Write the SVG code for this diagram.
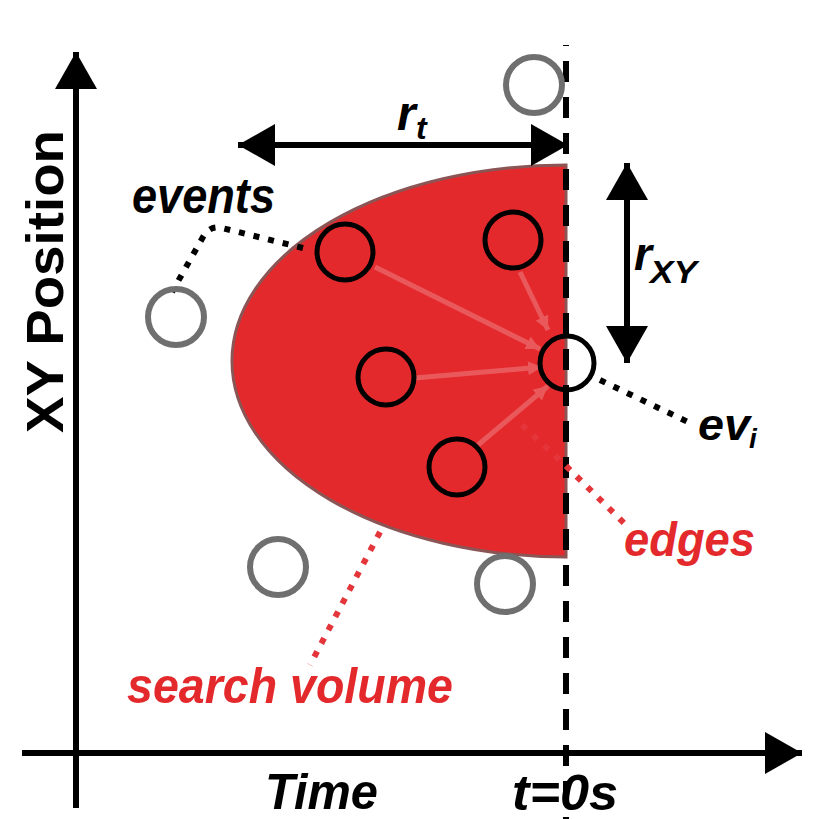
<svg xmlns="http://www.w3.org/2000/svg" width="815" height="819" viewBox="0 0 815 819">
<style>
.t{font-family:"Liberation Sans",Arial,sans-serif;font-weight:bold;font-style:italic;fill:#000}
.red{fill:#e4292c}
.ev{fill:none;stroke:#000;stroke-width:5}
.gr{fill:none;stroke:#6f6f6f;stroke-width:6}
.ax{stroke:#000;stroke-width:6;fill:none}
.dot{fill:none;stroke:#000;stroke-width:6;stroke-dasharray:6 9}
.rdot{fill:none;stroke:#e4353a;stroke-width:6;stroke-dasharray:6 9}
.faint{stroke:#e9595c;stroke-width:5;fill:none}
</style>
<defs>
<marker id="ah" markerUnits="userSpaceOnUse" markerWidth="40" markerHeight="44" refX="37" refY="21" orient="auto-start-reverse" viewBox="0 0 40 44">
<path d="M0,0 L37,21 L0,42 Z" fill="#000"/>
</marker>
<marker id="fh" markerUnits="userSpaceOnUse" markerWidth="16" markerHeight="16" refX="14" refY="7" orient="auto" viewBox="0 0 16 16">
<path d="M0,0 L14,7 L0,14 Z" fill="#e9595c"/>
</marker>
</defs>

<g id="search-volume">
<path d="M566,165 A334,196 0 0 0 566,557 Z" fill="#e4292c" stroke="#8b5555" stroke-width="3"/>
</g>

<g id="connectors">
<line class="ax" x1="76" y1="808" x2="76" y2="52" marker-end="url(#ah)"/>
<line class="ax" x1="22" y1="753" x2="802" y2="753" marker-end="url(#ah)"/>
<line x1="566" y1="45" x2="566" y2="819" stroke="#000" stroke-width="6" stroke-dasharray="21 15" stroke-dashoffset="20"/>
<line class="ax" x1="238" y1="145" x2="568" y2="145" marker-start="url(#ah)" marker-end="url(#ah)"/>
<line class="ax" x1="627" y1="163" x2="627" y2="363" marker-start="url(#ah)" marker-end="url(#ah)"/>
<line class="faint" x1="375" y1="267" x2="540" y2="349" marker-end="url(#fh)"/>
<line class="faint" x1="520" y1="272" x2="548" y2="330" marker-end="url(#fh)"/>
<line class="faint" x1="415" y1="378" x2="542" y2="367" marker-end="url(#fh)"/>
<line class="faint" x1="478" y1="445" x2="548" y2="386" marker-end="url(#fh)"/>
<path class="dot" d="M303,248 L222,228 Q210,225 203,237 L172,292"/>
<line class="dot" x1="600" y1="380" x2="688" y2="422"/>
<line class="rdot" x1="380" y1="532" x2="310" y2="665"/>
<line class="rdot" x1="522" y1="425" x2="566" y2="466" stroke="#ee6a6c"/>
<line class="rdot" x1="566" y1="466" x2="624" y2="523"/>
</g>

<g id="event-1"><circle class="ev" cx="345" cy="252" r="28"/></g>
<g id="event-2"><circle class="ev" cx="513" cy="240" r="28"/></g>
<g id="event-3"><circle class="ev" cx="386" cy="377" r="28"/></g>
<g id="event-4"><circle class="ev" cx="457" cy="467" r="28"/></g>
<g id="event-i"><circle class="ev" cx="567" cy="363" r="27"/></g>
<g id="other-1"><circle class="gr" cx="534" cy="85" r="28"/></g>
<g id="other-2"><circle class="gr" cx="176" cy="317" r="28"/></g>
<g id="other-3"><circle class="gr" cx="278" cy="567" r="28"/></g>
<g id="other-4"><circle class="gr" cx="505" cy="584" r="28"/></g>

<g id="labels">
<text class="t" x="132" y="213" font-size="50" textLength="143" lengthAdjust="spacingAndGlyphs">events</text>
<text class="t" x="397" y="130" font-size="48">r</text>
<text class="t" x="416" y="139" font-size="32">t</text>
<text class="t" x="634" y="270" font-size="46">r</text>
<text class="t" x="650" y="283" font-size="32" textLength="47" lengthAdjust="spacingAndGlyphs">XY</text>
<text class="t" x="698" y="440" font-size="44" textLength="52" lengthAdjust="spacingAndGlyphs">ev</text>
<text class="t" x="749" y="448" font-size="28">i</text>
<text class="t red" x="624" y="556" font-size="48" textLength="131" lengthAdjust="spacingAndGlyphs">edges</text>
<text class="t red" x="127" y="703" font-size="50" textLength="326" lengthAdjust="spacingAndGlyphs">search volume</text>
<text class="t" x="265" y="809" font-size="50" textLength="113" lengthAdjust="spacingAndGlyphs">Time</text>
<text class="t" x="512" y="810" font-size="50" textLength="106" lengthAdjust="spacingAndGlyphs">t=0s</text>
<text font-family="'Liberation Sans',Arial,sans-serif" font-weight="bold" font-size="52" transform="translate(63,433) rotate(-90)" textLength="303" lengthAdjust="spacingAndGlyphs">XY Position</text>
</g>
</svg>
